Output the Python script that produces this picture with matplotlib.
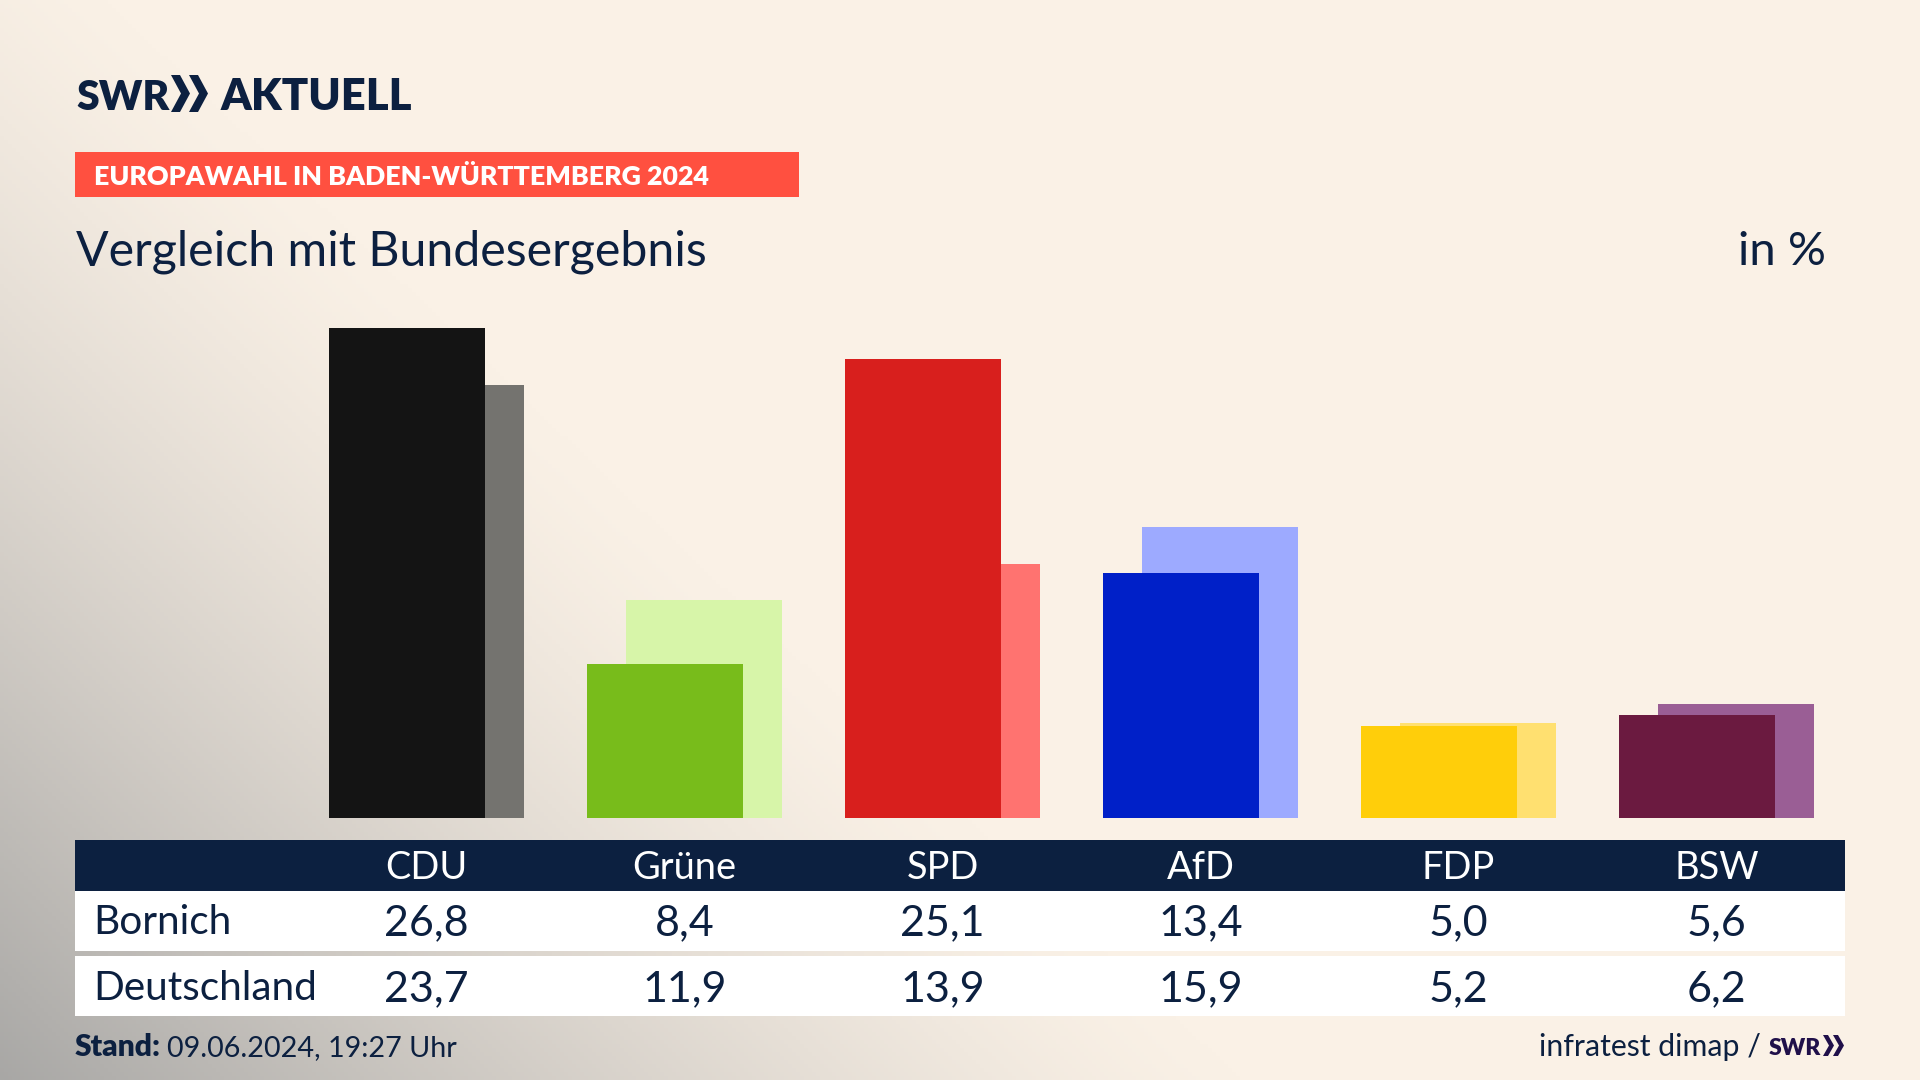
import numpy as np
import matplotlib
matplotlib.use('Agg')
from matplotlib import pyplot as plt

parties = ['CDU', 'Grüne', 'SPD', 'AfD', 'FDP', 'BSW']
bornich = [26.8, 8.4, 25.1, 13.4, 5.0, 5.6]
deutschland = [23.7, 11.9, 13.9, 15.9, 5.2, 6.2]
colors_front = ['#141414', '#78BC1B', '#D81F1D', '#0020C8', '#FFCE0A', '#6B1A40']
colors_back = ['#74736F', '#D7F5A9', '#FF7370', '#9DAAFF', '#FFE070', '#9A5E95']

NAVY = '#0C2040'
W, H = 1920, 1080
plt.rcParams['font.family'] = ['Lato', 'DejaVu Sans']


def px(size):
    """Font size in pixels to points at dpi 100."""
    return size * 0.72


def fmt(v):
    return f'{v:.1f}'.replace('.', ',')


def chevrons(ax, x, top, bot, w, t, gap, color):
    mid = (top + bot) / 2
    for i in range(2):
        x0 = x + i * gap
        ax.fill([x0, x0 + t, x0 + w, x0 + t, x0, x0 + w - t],
                [top, top, mid, bot, bot, mid], color=color, lw=0, zorder=5)


fig = plt.figure(figsize=(19.2, 10.8), dpi=100)

# page in pixel coordinates
page = fig.add_axes([0, 0, 1, 1])
page.set_xlim(0, W)
page.set_ylim(H, 0)
page.axis('off')

# background, cream with grey towards the lower left corner
yy, xx = np.mgrid[0:H:4, 0:W:4]
t = np.clip((yy - 0.95 * xx + 100) / 1180, 0, 1) ** 1.3
cream = np.array([250, 241, 230]) / 255
grey = np.array([168, 167, 165]) / 255
img = cream + (grey - cream) * t[..., None]
page.imshow(img, extent=(0, W, H, 0), aspect='auto', zorder=0)

# header
page.text(76, 110, 'SWR', fontsize=px(41), fontweight='heavy', color=NAVY, va='baseline')
chevrons(page, 171, 75, 112, 19, 9, 18, NAVY)
page.text(221, 110, 'AKTUELL', fontsize=px(43.5), fontweight='heavy', color=NAVY, va='baseline')

page.fill_between([75, 799], 152, 197, color='#FF5040', lw=0, zorder=1)
page.text(94, 185, 'EUROPAWAHL IN BADEN-WÜRTTEMBERG 2024', fontsize=px(26.8), fontweight='heavy',
          color='white', va='baseline', zorder=2)
page.text(76, 265, 'Vergleich mit Bundesergebnis', fontsize=px(48.2), color=NAVY, va='baseline')
page.text(1826, 265, 'in %', fontsize=px(47.5), color=NAVY, va='baseline', ha='right')

# bars, one axes over the whole page so the groups line up with the table
col_x0 = 426.5
col_step = 258
baseline = 817.7
unit = 18.27
ax = fig.add_axes([0, 0, 1, 1], facecolor='none')
ax.set_xlim(-col_x0 / col_step, (W - col_x0) / col_step)
ax.set_ylim(-(H - baseline) / unit, baseline / unit)
ax.axis('off')

x = np.arange(len(parties))
bar_w = 156.4 / col_step
shift = 19.5 / col_step
ax.bar(x + shift, deutschland, bar_w, color=colors_back, lw=0, zorder=2)
ax.bar(x - shift, bornich, bar_w, color=colors_front, lw=0, zorder=3)

# table
tab = fig.add_axes([0, 0, 1, 1], facecolor='none')
tab.set_xlim(0, W)
tab.set_ylim(H, 0)
tab.axis('off')
tab.fill_between([75, 1845], 840, 890.7, color=NAVY, lw=0)
tab.fill_between([75, 1845], 890.7, 951, color='white', lw=0)
tab.fill_between([75, 1845], 956, 1015.7, color='white', lw=0)

tab.text(93, 934, 'Bornich', fontsize=px(40.5), color=NAVY, va='baseline')
tab.text(93, 1000, 'Deutschland', fontsize=px(40.5), color=NAVY, va='baseline')
for i, name in enumerate(parties):
    cx = col_x0 + i * col_step
    tab.text(cx, 879, name, fontsize=px(38), color='white', ha='center', va='baseline')
    tab.text(cx, 935, fmt(bornich[i]), fontsize=px(43), color=NAVY, ha='center', va='baseline')
    tab.text(cx, 1001, fmt(deutschland[i]), fontsize=px(43), color=NAVY, ha='center', va='baseline')

# footer
tab.text(75, 1056, 'Stand:', fontsize=px(30), fontweight='heavy', color=NAVY, va='baseline')
tab.text(167, 1056, '09.06.2024, 19:27 Uhr', fontsize=px(28.7), color=NAVY, va='baseline')
tab.text(1761, 1056, 'infratest dimap /', fontsize=px(30.3), color=NAVY, va='baseline', ha='right')
tab.text(1769, 1055, 'SWR', fontsize=px(23), fontweight='heavy', color='#20104A', va='baseline')
chevrons(tab, 1823, 1035, 1056, 11, 5, 10, '#20104A')

fig.savefig('out.png', dpi=100)
